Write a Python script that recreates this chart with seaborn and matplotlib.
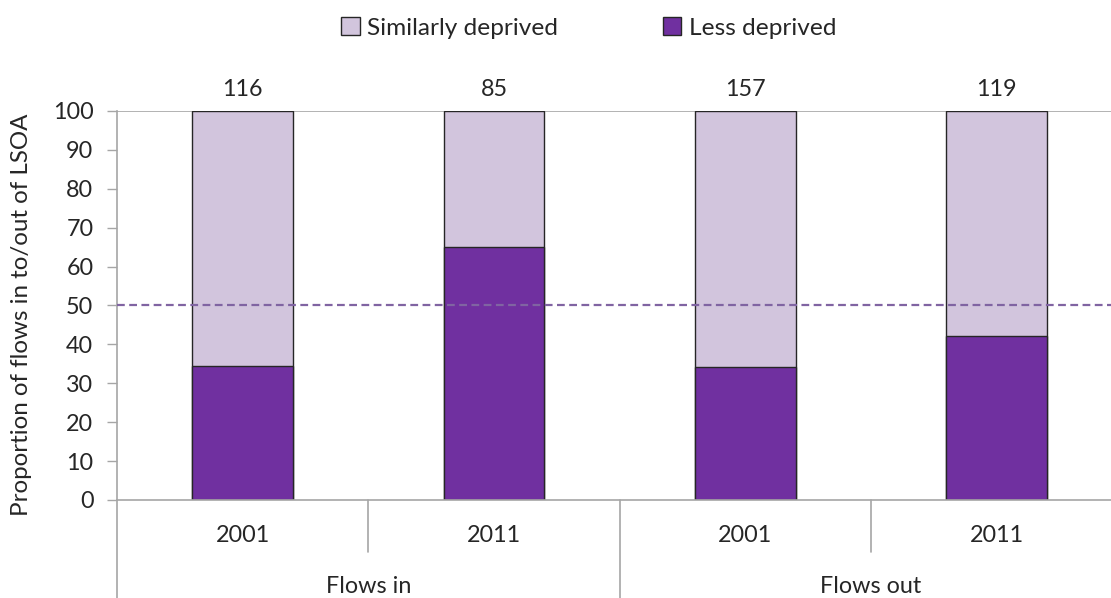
import matplotlib
matplotlib.use("Agg")
import matplotlib.pyplot as plt
import matplotlib.transforms as mtransforms
from matplotlib.patches import Patch
import pandas as pd
import seaborn as sns

# Data
groups = ["Flows in", "Flows in", "Flows out", "Flows out"]
years = ["2001", "2011", "2001", "2011"]
less_deprived = [34.5, 65.0, 34.3, 42.2]
similarly_deprived = [65.5, 35.0, 65.7, 57.8]
flow_counts = [116, 85, 157, 119]
series_names = ["Similarly deprived", "Less deprived"]

light_col = "#D2C5DD"
dark_col = "#7030A0"
edge_col = "#262626"
axis_col = "#A6A6A6"
text_col = "#262626"
fs = 16.8

sns.set_theme(style="white")
plt.rcParams["font.family"] = ["Lato", "DejaVu Sans"]

df = pd.DataFrame({
    "slot": [f"{g} {y}" for g, y in zip(groups, years)],
    "group": groups,
    "year": years,
    "less": less_deprived,
    "similar": similarly_deprived,
})
df["total"] = df["less"] + df["similar"]

fig = plt.figure(figsize=(11.11, 5.98), dpi=100)
ax = fig.add_axes([0.1053, 0.1639, 0.9050, 0.6505])

sns.barplot(data=df, x="slot", y="total", color=light_col, width=0.4,
            edgecolor=edge_col, linewidth=1.0, saturation=1, ax=ax)
sns.barplot(data=df, x="slot", y="less", color=dark_col, width=0.4,
            edgecolor=edge_col, linewidth=1.0, saturation=1, ax=ax)

ax.set_ylim(0, 100)
ax.set_xlim(-0.5, len(df) - 0.5)
ax.set_yticks(range(0, 101, 10))
ax.tick_params(axis="y", labelsize=fs, colors=text_col, length=7,
               width=1, color=axis_col, direction="out", left=True, pad=10)
ax.set_xticks([])
ax.set_xlabel("")
ax.set_ylabel("Proportion of flows in to/out of LSOA", fontsize=fs + 0.6,
              color=text_col)
ax.yaxis.set_label_coords(-0.0945, 0.475)
ax.yaxis.label.set_va("center")

for side in ["top", "right"]:
    ax.spines[side].set_visible(False)
for side in ["left", "bottom"]:
    ax.spines[side].set_color(axis_col)
    ax.spines[side].set_linewidth(1.2)

# Line along the 100 mark and 50% reference line
ax.axhline(100, color=axis_col, linewidth=1.2, zorder=0.5)
ax.axhline(50, color="#8064A2", linewidth=1.6, linestyle=(0, (3.5, 2)), zorder=3)

# Counts above each bar
for i, n in enumerate(flow_counts):
    ax.text(i, 105.5, str(n), ha="center", va="center", fontsize=fs,
            color=text_col, clip_on=False)

# Two-level category axis
trans = mtransforms.blended_transform_factory(ax.transData, ax.transAxes)
for i, y in enumerate(df["year"]):
    ax.text(i, -0.091, y, transform=trans, ha="center", va="center",
            fontsize=fs, color=text_col)
group_names = list(dict.fromkeys(groups))
for g in group_names:
    idx = [i for i, gg in enumerate(groups) if gg == g]
    ax.text(sum(idx) / len(idx), -0.222, g, transform=trans, ha="center",
            va="center", fontsize=fs, color=text_col)

for i in range(len(df) + 1):
    xpos = i - 0.5
    boundary = i == 0 or i == len(df) or groups[i] != groups[i - 1]
    low = -0.26 if boundary else -0.134
    ax.plot([xpos, xpos], [0, low], transform=trans, color=axis_col,
            linewidth=1.2, clip_on=False)

# Legend
handles = [Patch(facecolor=light_col, edgecolor=edge_col, linewidth=1.0),
           Patch(facecolor=dark_col, edgecolor=edge_col, linewidth=1.0)]
fig.legend(handles, series_names, loc="center", bbox_to_anchor=(0.530, 0.953),
           ncol=2, frameon=False, fontsize=fs + 0.8, handlelength=0.75,
           handleheight=0.75, handletextpad=0.3, columnspacing=4.3,
           labelcolor=text_col)

fig.savefig("out.png", dpi=100)
